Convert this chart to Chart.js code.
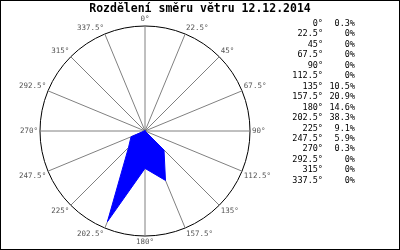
<!DOCTYPE html>
<html>
<head>
<meta charset="utf-8">
<script src="https://cdn.jsdelivr.net/npm/chart.js@4/dist/chart.umd.min.js"></script>
<style>
  html, body { margin: 0; padding: 0; background: #fff; }
  #box { position: absolute; left: 0; top: 0; width: 400px; height: 250px; }
  #frame { position: absolute; left: 0; top: 0; width: 400px; height: 250px; box-sizing: border-box; border: 1px solid #000; pointer-events: none; }
  #title { position: absolute; left: 0; top: 1px; width: 400px; text-align: center; font: bold 11.5px 'DejaVu Sans Mono', monospace; line-height: 14px; color: #000; }
  #table { position: absolute; left: 290px; top: 18px; font: 8.5px 'DejaVu Sans Mono', monospace; line-height: 10.45px; color: #000; }
  #table .row { display: flex; white-space: pre; }
  #table .dir { width: 33px; text-align: right; }
  #table .pct { width: 32px; text-align: right; }
</style>
</head>
<body>
<div id="box"><canvas id="chart" width="400" height="250"></canvas></div>
<div id="title"></div>
<div id="table"></div>
<div id="frame"></div>
<script>
'use strict';

// wind direction bins (degrees) and share of time per bin (%)
const directions = ['0°', '22.5°', '45°', '67.5°', '90°', '112.5°', '135°', '157.5°',
                    '180°', '202.5°', '225°', '247.5°', '270°', '292.5°', '315°', '337.5°'];
const shares = [0.3, 0, 0, 0, 0, 0, 10.5, 20.9, 14.6, 38.3, 9.1, 5.9, 0.3, 0, 0, 0];
const titleText = 'Rozdělení směru větru 12.12.2014';
const scaleMax = 41;

document.getElementById('title').textContent = titleText;

// side table: direction + percentage
document.getElementById('table').innerHTML = directions.map((d, i) =>
  `<div class="row"><span class="dir">${d}</span><span class="pct">${shares[i]}%</span></div>`
).join('');

const mono = "'DejaVu Sans Mono', monospace";

new Chart(document.getElementById('chart'), {
  type: 'radar',
  data: {
    labels: directions,
    datasets: [{
      label: 'směr větru',
      data: shares,
      backgroundColor: '#0000ff',
      borderColor: '#0000ff',
      borderWidth: 1,
      pointRadius: 0,
      fill: true,
      tension: 0,
    }]
  },
  options: {
    responsive: false,
    animation: false,
    devicePixelRatio: 1,
    layout: { padding: { left: 14, right: 124, top: 15, bottom: 3 } },
    plugins: {
      legend: { display: false },
      tooltip: { enabled: false },
      title: { display: false }
    },
    scales: {
      r: {
        min: 0, max: scaleMax,
        ticks: { display: false, stepSize: scaleMax },
        grid: { color: '#000', lineWidth: 1, circular: true },
        angleLines: { color: '#808080', lineWidth: 1 },
        pointLabels: { color: '#555', padding: 2, font: { family: mono, size: 7.5 } }
      }
    }
  }
});
</script>
</body>
</html>
